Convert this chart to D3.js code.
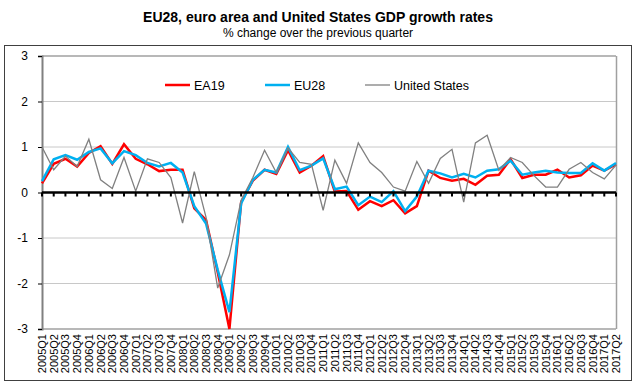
<!DOCTYPE html>
<html>
<head>
<meta charset="utf-8">
<script src="https://cdn.jsdelivr.net/npm/d3@7"></script>
<style>
  body { margin: 0; background: #fff; }
  svg text { font-family: "Liberation Sans", Arial, sans-serif; }
</style>
</head>
<body>
<div id="chart"></div>
<script>
const quarters = [
  "2005Q1","2005Q2","2005Q3","2005Q4","2006Q1","2006Q2","2006Q3","2006Q4",
  "2007Q1","2007Q2","2007Q3","2007Q4","2008Q1","2008Q2","2008Q3","2008Q4",
  "2009Q1","2009Q2","2009Q3","2009Q4","2010Q1","2010Q2","2010Q3","2010Q4",
  "2011Q1","2011Q2","2011Q3","2011Q4","2012Q1","2012Q2","2012Q3","2012Q4",
  "2013Q1","2013Q2","2013Q3","2013Q4","2014Q1","2014Q2","2014Q3","2014Q4",
  "2015Q1","2015Q2","2015Q3","2015Q4","2016Q1","2016Q2","2016Q3","2016Q4",
  "2017Q1","2017Q2"
];

const ea19 = [0.2, 0.63, 0.74, 0.57, 0.87, 1.02, 0.63, 1.06, 0.74, 0.62,
  0.47, 0.5, 0.5, -0.35, -0.6, -1.75, -3.0, -0.21, 0.26, 0.5,
  0.41, 0.93, 0.44, 0.59, 0.8, 0.02, 0.03, -0.38, -0.19, -0.3,
  -0.17, -0.46, -0.3, 0.48, 0.32, 0.26, 0.3, 0.17, 0.37, 0.39,
  0.73, 0.32, 0.39, 0.39, 0.5, 0.33, 0.38, 0.59, 0.48, 0.62];

const eu28 = [0.25, 0.73, 0.82, 0.72, 0.89, 0.97, 0.64, 0.91, 0.82, 0.65,
  0.57, 0.65, 0.44, -0.3, -0.68, -1.7, -2.63, -0.24, 0.28, 0.5,
  0.44, 1.0, 0.49, 0.59, 0.75, 0.07, 0.13, -0.28, -0.09, -0.21,
  0.03, -0.41, -0.09, 0.48, 0.42, 0.33, 0.41, 0.33, 0.48, 0.51,
  0.7, 0.39, 0.44, 0.48, 0.44, 0.43, 0.43, 0.64, 0.48, 0.65];

const us = [1.0, 0.5, 0.8, 0.57, 1.17, 0.28, 0.09, 0.77, 0.03, 0.74,
  0.66, 0.33, -0.67, 0.46, -0.54, -2.1, -1.37, -0.17, 0.33, 0.93,
  0.44, 0.98, 0.66, 0.62, -0.39, 0.71, 0.2, 1.09, 0.66, 0.44,
  0.12, 0.03, 0.68, 0.2, 0.75, 0.95, -0.21, 1.09, 1.26, 0.49,
  0.77, 0.66, 0.37, 0.12, 0.12, 0.51, 0.66, 0.44, 0.3, 0.6];

const yTicks = [-3, -2, -1, 0, 1, 2, 3];

const seriesNames = ["EA19", "EU28", "United States"];
const seriesColors = ["#ff0000", "#00b0f0", "#808080"];
const seriesWidths = [2.5, 2.5, 1.3];

const width = 637;
const height = 387;
const plotLeft = 42, plotRight = 616, plotTop = 56, plotBottom = 329;

const svg = d3.select("#chart").append("svg")
    .attr("width", width)
    .attr("height", height);

// outer frame
svg.append("rect")
    .attr("x", 4.5).attr("y", 45.5)
    .attr("width", 627).attr("height", 335)
    .attr("fill", "none")
    .attr("stroke", "#404040")
    .attr("stroke-width", 1);

svg.append("text")
    .attr("x", 318).attr("y", 22)
    .attr("text-anchor", "middle")
    .attr("font-size", 14).attr("font-weight", "bold")
    .text("EU28, euro area and United States GDP growth rates");

svg.append("text")
    .attr("x", 318).attr("y", 37)
    .attr("text-anchor", "middle")
    .attr("font-size", 12)
    .text("% change over the previous quarter");

const x = d3.scalePoint().domain(quarters).range([plotLeft, plotRight]);
const y = d3.scaleLinear().domain([-3, 3]).range([plotBottom, plotTop]);

// gridlines
svg.append("g")
    .selectAll("line")
    .data(yTicks.filter(d => d !== 0))
    .join("line")
    .attr("x1", plotLeft).attr("x2", plotRight)
    .attr("y1", d => y(d)).attr("y2", d => y(d))
    .attr("stroke", d => d === 3 || d === -3 ? "#a0a0a0" : "#c8c8c8")
    .attr("stroke-width", d => d === 3 || d === -3 ? 1.5 : 1);

// right border of plot area
svg.append("line")
    .attr("x1", plotRight + 0.5).attr("x2", plotRight + 0.5)
    .attr("y1", plotTop).attr("y2", plotBottom)
    .attr("stroke", "#a0a0a0").attr("stroke-width", 1.5);

// y axis
const yAxis = svg.append("g")
    .attr("transform", `translate(${plotLeft},0)`)
    .call(d3.axisLeft(y).tickValues(yTicks).tickSize(4).tickPadding(10).tickFormat(d3.format("d")));
yAxis.select(".domain").attr("stroke", "#808080").attr("stroke-width", 2);
yAxis.selectAll(".tick line").attr("stroke", "#000");
yAxis.selectAll(".tick text").attr("font-size", 12).attr("fill", "#000")
    .text(d => d < 0 ? "-" + Math.abs(d) : d);

// x labels along the bottom
svg.append("g")
    .selectAll("text")
    .data(quarters)
    .join("text")
    .attr("transform", d => `translate(${x(d) + 4},334) rotate(-90)`)
    .attr("text-anchor", "end")
    .attr("font-size", 11)
    .text(d => d);

// series lines
const allSeries = [ea19, eu28, us];
const line = d3.line()
    .x((d, i) => x(quarters[i]))
    .y(d => y(d));

allSeries.forEach((values, k) => {
    svg.append("path")
        .datum(values)
        .attr("fill", "none")
        .attr("stroke", seriesColors[k])
        .attr("stroke-width", seriesWidths[k])
        .attr("stroke-linejoin", "miter")
        .attr("d", line);
});

// zero axis with category ticks
svg.append("line")
    .attr("x1", plotLeft).attr("x2", plotRight)
    .attr("y1", y(0)).attr("y2", y(0))
    .attr("stroke", "#000").attr("stroke-width", 2.5);
svg.append("g")
    .selectAll("rect")
    .data(quarters)
    .join("rect")
    .attr("x", d => x(d) - 1)
    .attr("y", y(0))
    .attr("width", 2).attr("height", 4)
    .attr("fill", "#000");

// legend
const legendX = [165, 265, 365];
const legend = svg.append("g");
seriesNames.forEach((name, k) => {
    legend.append("line")
        .attr("x1", legendX[k]).attr("x2", legendX[k] + 25)
        .attr("y1", 85).attr("y2", 85)
        .attr("stroke", seriesColors[k])
        .attr("stroke-width", seriesWidths[k]);
    legend.append("text")
        .attr("x", legendX[k] + 29).attr("y", 89.5)
        .attr("font-size", 12.5)
        .text(name);
});
</script>
</body>
</html>
